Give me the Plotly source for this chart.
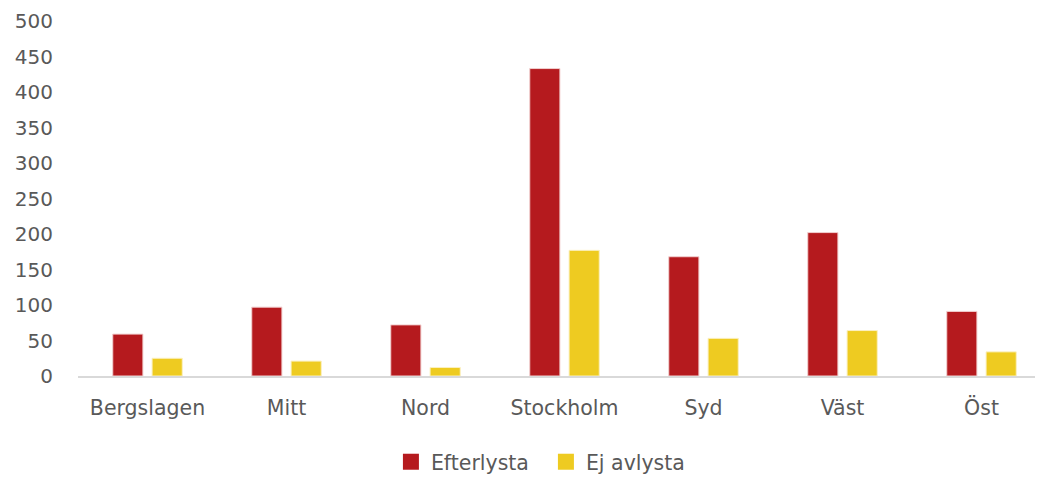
import plotly.graph_objects as go

regions = ["Bergslagen", "Mitt", "Nord", "Stockholm", "Syd", "Väst", "Öst"]
efterlysta = [59, 97, 72, 433, 168, 202, 91]
ej_avlysta = [25, 21, 12, 177, 53, 64, 34]

y_ticks = [0, 50, 100, 150, 200, 250, 300, 350, 400, 450, 500]

red = "#B51A1E"
yellow = "#EECB21"

fig = go.Figure()

fig.add_trace(go.Bar(
    x=regions, y=efterlysta, name="Efterlysta", showlegend=False,
    marker=dict(color=red, line=dict(color="#F2D0D0", width=1)),
))
fig.add_trace(go.Bar(
    x=regions, y=ej_avlysta, name="Ej avlysta", showlegend=False,
    marker=dict(color=yellow, line=dict(color="#FBF0C0", width=1)),
))

# legend-only entries so the swatches can be bigger squares
for name, col in [("Efterlysta", red), ("Ej avlysta", yellow)]:
    fig.add_trace(go.Scatter(
        x=[None], y=[None], mode="markers", name=name,
        marker=dict(symbol="square", size=16, color=col),
    ))

fig.update_layout(
    width=1043, height=478,
    barmode="group",
    bargap=0.434,
    bargroupgap=0.233,
    plot_bgcolor="white",
    paper_bgcolor="white",
    font=dict(family="DejaVu Sans, sans-serif", color="#595959", size=20),
    margin=dict(l=70, r=0, t=13, b=110),
    showlegend=True,
    legend=dict(
        orientation="h", x=0.3216, xanchor="left", y=-0.242, yanchor="middle",
        font=dict(size=20.5, color="#595959"),
        entrywidth=110, entrywidthmode="pixels",
        traceorder="normal",
    ),
    xaxis=dict(
        showgrid=False, showline=True, linecolor="#D9D9D9", linewidth=2,
        ticks="", ticklabelstandoff=12, tickfont=dict(size=20.5),
    ),
    yaxis=dict(
        range=[0, 500], tickvals=y_ticks, showgrid=False, zeroline=False,
        showline=False, ticks="", ticklabelstandoff=24, tickfont=dict(size=20),
    ),
)

fig.write_html("out.html")
